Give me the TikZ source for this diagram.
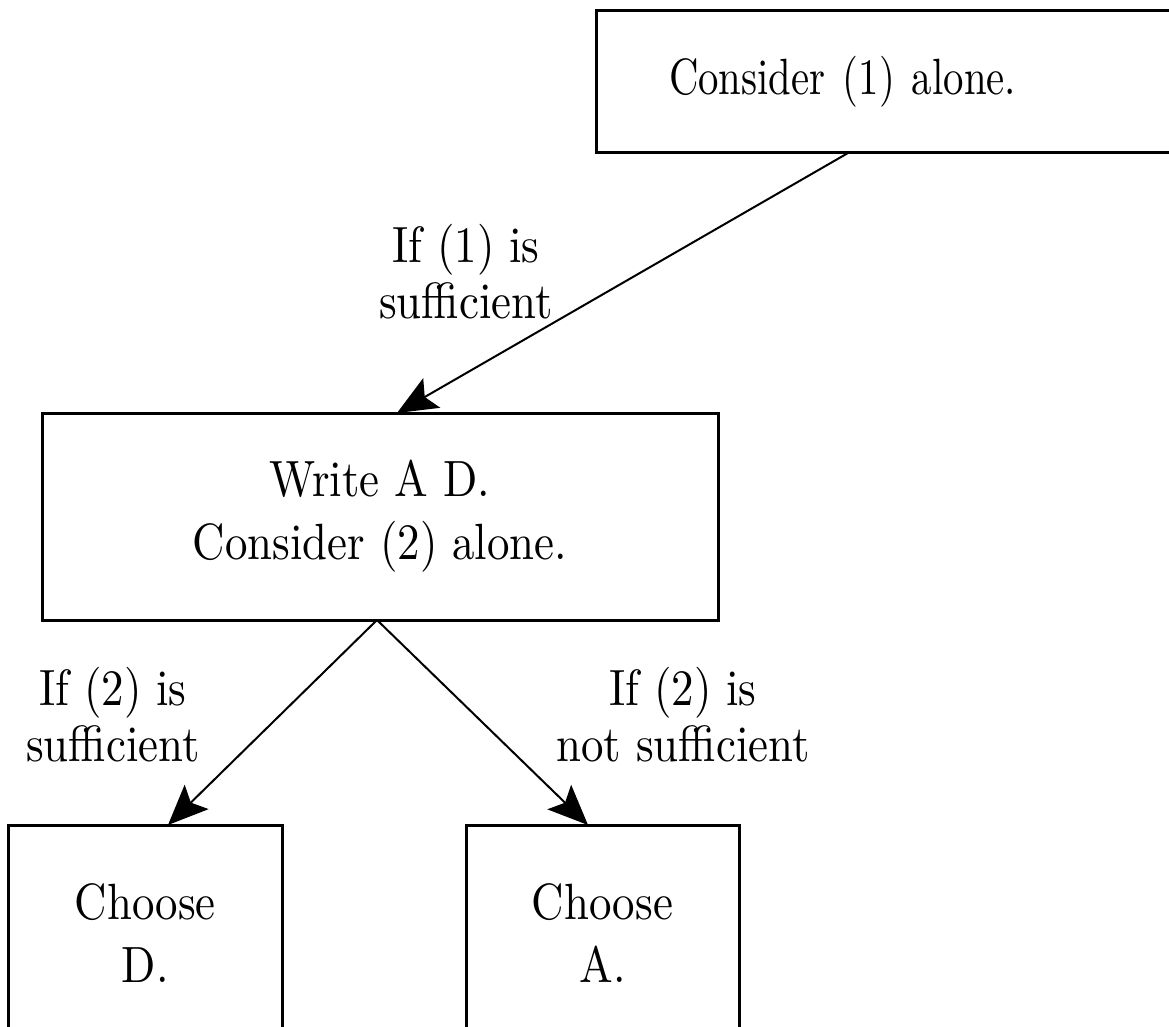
\documentclass[tikz,border=0pt]{standalone}
\usepackage{fontspec}
\setmainfont{lmroman10-regular.otf}[FakeStretch=0.88]
\newfontfamily\narrowserif{lmroman10-regular.otf}[FakeStretch=0.8]
\usetikzlibrary{arrows.meta}

\tikzset{
  txt/.style={font=\fontsize{51}{63}\selectfont, align=center},
  box/.style={draw, line width=3pt, outer sep=0pt, inner sep=0pt, txt},
  lbl/.style={font=\fontsize{51}{56}\selectfont, align=center, inner sep=0pt},
  arr/.style={line width=2pt, -{Stealth[length=40pt, width=34pt, inset=8pt]}}
}

\begin{document}
\begin{tikzpicture}[x=1pt, y=-1pt]
  \useasboundingbox (0,0) rectangle (1169,1027);
  \clip (0,0) rectangle (1169,1027);

  % decision boxes
  \node[box, minimum width=604pt, minimum height=142pt, text width=458pt,
        inner xsep=73pt, align=left,
        font=\narrowserif\fontsize{51}{63}\selectfont] (top) at (898,82)
        {Consider (1) alone.};
  \node[box, minimum width=676pt, minimum height=207pt] (mid) at (380,516.5)
        {Write A D.\\Consider (2) alone.};
  \node[box, minimum width=273.5pt, minimum height=216pt] (d) at (145.25,933)
        {Choose\\D.};
  \node[box, minimum width=273pt, minimum height=216pt] (a) at (602.5,933)
        {Choose\\A.};

  % branches
  \draw[arr] ([xshift=252pt]top.south west) -- ([xshift=355pt]mid.north west);
  \draw[arr] ([xshift=335pt]mid.south west) -- ([xshift=159.5pt]d.north west);
  \draw[arr] ([xshift=335pt]mid.south west) -- ([xshift=122pt]a.north west);

  % branch conditions
  \node[lbl] (c1) at (466,272) {If (1) is\\sufficient};
  \node[lbl] (c2) at (113,715) {If (2) is\\sufficient};
  \node[lbl] (c3) at (683,715) {If (2) is\\not sufficient};
\end{tikzpicture}
\end{document}
